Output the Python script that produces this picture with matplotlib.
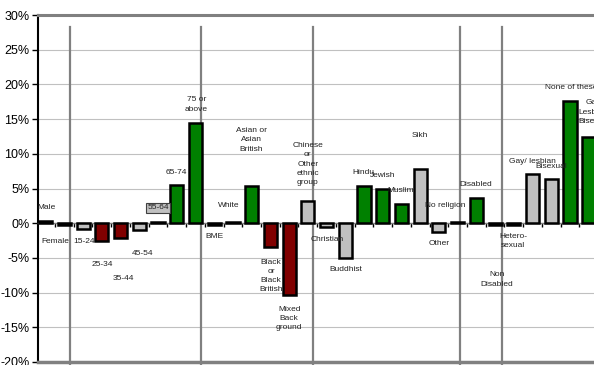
import matplotlib
matplotlib.use('Agg')
import matplotlib.pyplot as plt
import numpy as np

plt.rcParams['font.family'] = ['Liberation Sans', 'DejaVu Sans']

# data (percent)
labels = ['Male', 'Female', '15-24', '25-34', '35-44', '45-54', '55-64', '65-74',
          '75 or\nabove', 'BME', 'White', 'Asian or\nAsian\nBritish',
          'Black\nor\nBlack\nBritish', 'Mixed\nBack\nground',
          'Chinese\nor\nOther\nethnic\ngroup', 'Christian', 'Buddhist', 'Hindu',
          'Jewish', 'Muslim', 'Sikh', 'Other', 'No religion', 'Disabled',
          'Non\nDisabled', 'Hetero-\nsexual', 'Gay/ lesbian', 'Bisexual',
          'None of these', 'Gay/\nLesbian/\nBisexual']
values = [0.3, -0.3, -0.9, -2.5, -2.1, -1.0, 0.2, 5.5, 14.4, -0.2, 0.2, 5.3,
          -3.4, -10.4, 3.2, -0.5, -5.0, 5.4, 5.0, 2.8, 7.8, -1.25, 0.2, 3.65,
          -0.3, -0.2, 7.1, 6.3, 17.6, 12.35]
kinds = ['n', 'n', 'n', 'r', 'r', 'n', 'n', 'g', 'g', 'n', 'n', 'g',
         'r', 'r', 'n', 'n', 'n', 'g', 'g', 'g', 'n', 'n', 'n', 'g',
         'n', 'n', 'n', 'n', 'g', 'g']
yticks = [-20, -15, -10, -5, 0, 5, 10, 15, 20, 25, 30]
ytick_labels = ['-20%', '-15%', '-10%', '-5%', '0%', '5%', '10%', '15%', '20%', '25%', '30%']

# label placement (x in bar units, y in percent)
label_x = [0.03, 0.51, 2.06, 3.02, 4.14, 5.2, 6.0, 6.97, 8.04, 9.0, 9.8, 10.97,
           12.04, 13.0, 14.0, 15.03, 16.04, 16.95, 18.02, 18.98, 20.0, 21.0,
           21.33, 22.98, 24.1, 24.96, 25.97, 26.99, 28.06, 29.3]
label_y = [2.2, -2.6, -2.6, -5.9, -7.9, -4.3, 2.2, 7.35, 17.1, -1.9, 2.6, 12.0,
           -7.6, -13.7, 8.5, -2.3, -6.6, 7.35, 6.9, 4.75, 12.7, -2.9, 2.6, 5.6,
           -8.1, -2.6, 8.9, 8.2, 19.6, 16.0]
separators = [1.31, 8.30, 14.28, 22.13, 24.37]

colors = {'g': '#008000', 'r': '#800000', 'n': '#c0c0c0'}

fig = plt.figure(figsize=(5.94, 3.65), dpi=100)
ax = fig.add_axes([38 / 594, 3 / 365, 556 / 594, 347 / 365])

x = np.arange(len(values))
ax.bar(x, values, width=0.7, color=[colors[k] for k in kinds],
       edgecolor='black', linewidth=1.8, zorder=3)

ax.set_xlim(-0.41, 29.28)
ax.set_ylim(-20, 30)
ax.set_yticks(yticks)
ax.set_yticklabels(ytick_labels, fontsize=9)
ax.tick_params(axis='y', length=4, width=1, color='black', pad=2)

ax.grid(axis='y', color='#c0c0c0', linewidth=0.8)
ax.set_axisbelow(True)

# zero line with small category ticks
ax.spines['bottom'].set_position(('data', 0))
ax.spines['bottom'].set_color('#808080')
ax.spines['bottom'].set_linewidth(1)
ax.set_xticks(x[:-1] + 0.5)
ax.set_xticklabels([])
ax.tick_params(axis='x', length=3, width=1, color='black', direction='out')

ax.spines['left'].set_color('black')
ax.spines['left'].set_linewidth(1.5)
ax.spines['right'].set_visible(False)
ax.spines['top'].set_color('#808080')
ax.spines['top'].set_linewidth(2.2)
ax.axhline(-20, color='#808080', linewidth=2.5, clip_on=False, zorder=4)

for s in separators:
    ax.plot([s, s], [28.3, -21], color='#808080', linewidth=1.6,
            clip_on=False, zorder=2)

for i, lab in enumerate(labels):
    kw = {}
    if lab == '55-64':
        kw['bbox'] = dict(boxstyle='square,pad=0.2', fc='#c0c0c0', ec='#404040', lw=0.8)
    ax.text(label_x[i], label_y[i], lab, fontsize=6, ha='center', va='center',
            linespacing=1.45, color='#222222', zorder=5, **kw)

fig.savefig('out.png', dpi=100)
